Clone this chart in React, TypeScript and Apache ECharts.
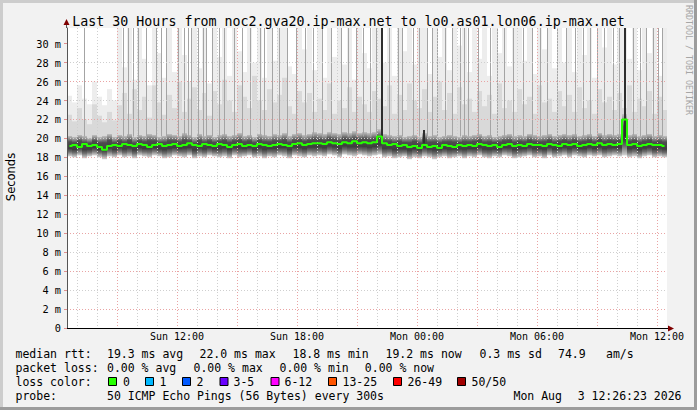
import React, { useEffect, useRef } from 'react';
import * as echarts from 'echarts';

// ---- time layout (hours of day, Sun 06:30 -> Mon 12:30) ----
const START_H = 6.5;
const END_H = 36.5;
const STEP_H = 0.25;
const Y_MAX = 31.65;

// ---- median RTT per 15-minute column (ms) ----
const median = [
  19.2, 19.3, 19.1, 19.4, 19.2, 19.3, 19.1, 18.8, 19.2, 19.3,
  19.2, 19.4, 19.3, 19.2, 19.4, 19.3, 19.1, 19.3, 19.4, 19.2,
  19.3, 19.4, 19.2, 19.3, 19.5, 19.3, 19.2, 19.4, 19.3, 19.2,
  19.4, 19.3, 19.1, 19.3, 19.4, 19.2, 19.3, 19.2, 19.4, 19.3,
  19.2, 19.3, 19.4, 19.3, 19.2, 19.4, 19.5, 19.3, 19.4, 19.5,
  19.5, 19.4, 19.6, 19.5, 19.4, 19.6, 19.5, 19.7, 19.5, 19.6,
  19.5, 19.6, 20.2, 19.5, 19.3, 19.4, 19.2, 19.3, 19.1, 19.2,
  19.0, 19.3, 19.1, 19.2, 19.0, 19.3, 19.2, 19.1, 19.3, 19.2,
  19.3, 19.2, 19.4, 19.3, 19.2, 19.3, 19.1, 19.3, 19.4, 19.2,
  19.3, 19.2, 19.4, 19.3, 19.3, 19.2, 19.4, 19.3, 19.2, 19.4,
  19.3, 19.4, 19.2, 19.3, 19.4, 19.3, 19.5, 19.3, 19.4, 19.3,
  19.4, 22.0, 19.3, 19.4, 19.2, 19.3, 19.4, 19.3, 19.3, 19.2,
];

// ---- smoke: lowest and highest of the dense ping core (ms) ----
const smokeLo = [
  18.1, 18.0, 18.2, 17.9, 18.1, 18.2, 18.0, 17.8, 18.1, 18.0,
  18.2, 18.0, 18.1, 17.9, 18.2, 18.1, 18.0, 18.2, 18.1, 17.9,
  18.0, 18.2, 18.1, 18.0, 18.2, 17.9, 18.1, 18.0, 18.2, 18.1,
  18.0, 18.1, 17.9, 18.2, 18.0, 18.1, 18.2, 18.0, 18.1, 17.9,
  18.1, 18.0, 18.2, 18.1, 17.9, 18.2, 18.1, 18.0, 18.2, 18.1,
  18.2, 18.1, 18.3, 18.2, 18.0, 18.3, 18.2, 18.1, 18.3, 18.2,
  18.1, 18.2, 18.3, 18.0, 18.1, 17.9, 18.0, 18.1, 17.8, 18.0,
  17.9, 18.1, 18.0, 17.8, 18.0, 18.1, 17.9, 18.0, 18.1, 17.9,
  18.1, 18.0, 18.2, 18.0, 17.9, 18.1, 18.0, 18.2, 18.1, 17.9,
  18.0, 18.1, 18.2, 18.0, 18.1, 17.9, 18.2, 18.0, 18.1, 18.2,
  18.0, 18.2, 18.1, 18.0, 18.2, 18.1, 18.2, 18.0, 18.1, 18.2,
  18.1, 18.2, 18.0, 18.1, 17.9, 18.1, 18.2, 18.0, 18.1, 18.0,
];
const smokeHi = [
  20.3, 20.2, 20.4, 20.3, 20.1, 20.4, 20.2, 20.3, 20.5, 20.2,
  20.4, 20.3, 20.5, 20.2, 20.4, 20.3, 20.5, 20.4, 20.2, 20.3,
  20.5, 20.4, 20.3, 20.6, 20.4, 20.2, 20.5, 20.3, 20.4, 20.2,
  20.4, 20.5, 20.3, 20.4, 20.6, 20.3, 20.4, 20.2, 20.5, 20.4,
  20.3, 20.5, 20.4, 20.6, 20.3, 20.5, 20.6, 20.4, 20.5, 20.7,
  20.6, 20.5, 20.7, 20.6, 20.5, 20.7, 20.6, 20.8, 20.6, 20.7,
  20.6, 20.7, 21.0, 20.5, 20.4, 20.3, 20.4, 20.2, 20.3, 20.4,
  20.2, 20.6, 20.3, 20.4, 20.2, 20.3, 20.4, 20.3, 20.2, 20.4,
  20.3, 20.4, 20.5, 20.3, 20.4, 20.2, 20.3, 20.4, 20.5, 20.3,
  20.4, 20.3, 20.5, 20.4, 20.3, 20.4, 20.5, 20.3, 20.4, 20.5,
  20.4, 20.5, 20.3, 20.4, 20.5, 20.3, 20.6, 20.4, 20.5, 20.4,
  20.5, 22.6, 20.4, 20.5, 20.3, 20.4, 20.5, 20.3, 20.4, 20.3,
];
// ---- smoke: upper pings (light) and highest pings (faint) (ms) ----
const lightTop = [
  22.5, 21.8, 23.2, 22.0, 21.5, 23.6, 22.4, 21.7, 22.8, 21.9,
  23.5, 24.8, 22.6, 25.2, 23.0, 24.4, 22.2, 25.6, 23.8, 22.5,
  24.6, 23.2, 26.0, 22.8, 24.2, 25.4, 23.0, 24.8, 22.4, 25.0,
  23.6, 26.2, 24.0, 22.8, 25.6, 24.4, 23.2, 26.6, 24.0, 23.0,
  25.2, 23.8, 24.6, 26.4, 23.4, 22.6, 25.0, 23.8, 24.8, 22.8,
  24.2, 23.0, 25.8, 22.6, 24.0, 23.2, 25.4, 22.8, 24.4, 23.6,
  22.8, 25.0, 24.2, 23.4, 25.6, 22.6, 24.6, 23.0, 25.8, 24.0,
  23.2, 25.2, 22.8, 24.4, 26.0, 23.0, 24.8, 22.6, 25.4, 23.6,
  24.2, 22.8, 25.0, 23.4, 24.6, 22.6, 25.8, 23.2, 24.0, 22.8,
  25.2, 23.6, 24.4, 22.6, 25.6, 23.8, 24.2, 22.8, 25.0, 23.4,
  24.6, 22.8, 25.4, 23.2, 24.0, 22.6, 25.2, 23.8, 24.4, 23.0,
  24.8, 23.2, 25.6, 22.8, 24.2, 23.4, 25.0, 22.6, 24.4, 23.0,
];
const faintTop = [
  24.5, 23.8, 25.6, 24.2, 23.6, 26.0, 24.4, 23.5, 25.2, 24.0,
  40, 27.5, 40, 26.2, 40, 28.4, 25.6, 40, 29.0, 26.4,
  40, 27.0, 40, 28.8, 26.0, 40, 27.4, 40, 25.8, 40,
  28.6, 40, 26.6, 40, 29.2, 27.0, 40, 28.0, 40, 26.4,
  40, 28.2, 40, 40, 27.6, 26.8, 40, 29.4, 40, 27.2,
  40, 26.4, 40, 28.6, 40, 27.8, 40, 26.2, 40, 29.0,
  27.4, 40, 40, 28.0, 40, 26.6, 40, 29.2, 40, 27.8,
  40, 40, 26.8, 40, 28.6, 40, 27.2, 40, 29.8, 40,
  27.0, 40, 28.4, 40, 26.6, 40, 29.0, 40, 27.6, 40,
  40, 28.2, 40, 26.8, 40, 29.4, 40, 27.4, 40, 28.0,
  40, 27.0, 40, 28.8, 40, 26.4, 40, 29.6, 40, 27.8,
  40, 40, 28.4, 40, 27.2, 40, 29.0, 40, 26.6, 40,
];

// ---- single high pings (hours), drawn from the core up ----
const spikeHours = [
  7.35, 9.3, 9.55, 9.8, 10.05, 10.45, 10.95, 11.2, 11.45, 12.05,
  12.35, 12.55, 12.7, 13.05, 13.3, 13.45, 13.75, 14.1, 14.35, 14.85,
  15.25, 15.65, 16.15, 16.35, 16.75, 17.1, 17.5, 17.95, 18.4, 18.8,
  19.25, 19.7, 20.2, 20.55, 20.95, 21.3, 21.65, 21.95, 22.6, 23.05,
  23.25, 23.8, 24.1, 24.5, 24.75, 25.0, 25.4, 25.75, 26.15, 26.35,
  26.55, 27.05, 27.65, 28.0, 28.35, 28.8, 29.3, 29.75, 30.15, 30.5,
  31.0, 31.45, 31.9, 32.3, 32.65, 33.0, 33.35, 33.8, 34.1, 34.8,
  35.15, 35.45, 35.8, 36.05, 36.25,
];
const spikeBase = 20.2;
const darkSpikeHours = [22.2, 24.3, 34.35];
const darkSpikeLows = [20.0, 19.5, 20.2];
const darkSpikeTops = [40, 20.9, 40];

// ---- axes ----
const yLabelValues = [0, 2, 4, 6, 8, 10, 12, 14, 16, 18, 20, 22, 24, 26, 28, 30];
const xLabelHours = [12, 18, 24, 30, 36];
const xLabelTexts = ['Sun 12:00', 'Sun 18:00', 'Mon 00:00', 'Mon 06:00', 'Mon 12:00'];

// ---- legend ----
const titleText = 'Last 30 Hours from noc2.gva20.ip-max.net to lo0.as01.lon06.ip-max.net';
const medianStatValues = ['19.3', '22.0', '18.8', '19.2'];
const medianStatNames = ['avg', 'max', 'min', 'now'];
const sdValue = '0.3';
const amsValue = '74.9';
const lossStatValues = ['0.00', '0.00', '0.00', '0.00'];
const lossStatNames = ['avg', 'max', 'min', 'now'];
const lossLabels = ['0', '1', '2', '3-5', '6-12', '13-25', '26-49', '50/50'];
const lossColors = ['#26ff00', '#00b8ff', '#0059ff', '#6a00ff', '#ff00ff', '#ff5500', '#ff0000', '#a10000'];
const probeText = '50 ICMP Echo Pings (56 Bytes) every 300s';
const dateDay = 'Mon Aug';
const dateRest = '3 12:26:23 2026';

// layout constants
const MONO = '"DejaVu Sans Mono", monospace';
const LEG_FONT = `11.5px ${MONO}`;
const medianX = [107, 199.5, 292.5, 385.5];
const lossX = [107, 193.5, 279.5, 364.8];
const lossBoxX = [108, 145, 182, 219.5, 270.5, 328, 393, 457];
const lossLabelX = [123, 159.5, 196.5, 233.5, 284.5, 342.5, 407.5, 471.5];

function legendText(text: string, x: number, y: number, extra: any = {}) {
  return {
    type: 'text',
    x,
    y,
    silent: true,
    style: { text, font: LEG_FONT, fill: '#000', verticalAlign: 'middle', ...extra },
  };
}

function buildGraphic() {
  const g: any[] = [];
  // frame shading
  g.push({ type: 'rect', shape: { x: 0, y: 0, width: 697, height: 3 }, style: { fill: '#cdcdcd' }, silent: true });
  g.push({ type: 'rect', shape: { x: 0, y: 0, width: 3, height: 410 }, style: { fill: '#cdcdcd' }, silent: true });
  g.push({ type: 'rect', shape: { x: 694, y: 0, width: 3, height: 410 }, style: { fill: '#9c9c9c' }, silent: true });
  g.push({ type: 'rect', shape: { x: 0, y: 407, width: 697, height: 3 }, style: { fill: '#9c9c9c' }, silent: true });
  // axis arrows
  g.push({ type: 'line', shape: { x1: 66.5, y1: 28, x2: 66.5, y2: 23 }, style: { stroke: '#555', lineWidth: 1 }, silent: true });
  g.push({ type: 'polygon', shape: { points: [[63.5, 25], [66.5, 19], [69.5, 25]] }, style: { fill: '#7f0000' }, silent: true });
  g.push({ type: 'line', shape: { x1: 667, y1: 328.5, x2: 670, y2: 328.5 }, style: { stroke: '#000', lineWidth: 1 }, silent: true });
  g.push({ type: 'polygon', shape: { points: [[668, 325.5], [674, 328.5], [668, 331.5]] }, style: { fill: '#7f0000' }, silent: true });
  // vertical labels
  g.push({
    type: 'text', x: 10.5, y: 177, rotation: Math.PI / 2, silent: true,
    style: { text: 'Seconds', font: '11.5px "DejaVu Sans", sans-serif', fill: '#000', align: 'center', verticalAlign: 'middle' },
  });
  g.push({
    type: 'text', x: 689, y: 60, rotation: -Math.PI / 2, silent: true,
    style: { text: 'RRDTOOL / TOBI OETIKER', font: `8.3px ${MONO}`, fill: '#a6a6a6', align: 'center', verticalAlign: 'middle' },
  });
  // row 1
  const r1 = 354;
  g.push(legendText('median rtt:', 15.5, r1));
  medianStatValues.forEach((v, i) => g.push(legendText(`${v} ms ${medianStatNames[i]}`, medianX[i], r1)));
  g.push(legendText(`${sdValue} ms sd`, 479.5, r1));
  g.push(legendText(amsValue, 558, r1));
  g.push(legendText('am/s', 606, r1));
  // row 2
  const r2 = 368;
  g.push(legendText('packet loss:', 15.5, r2));
  lossStatValues.forEach((v, i) => g.push(legendText(`${v} % ${lossStatNames[i]}`, lossX[i], r2)));
  // row 3
  const r3 = 382;
  g.push(legendText('loss color:', 15.5, r3));
  lossLabels.forEach((lab, i) => {
    g.push({
      type: 'rect', silent: true,
      shape: { x: lossBoxX[i] + 0.5, y: r3 - 4.5, width: 8, height: 8 },
      style: { fill: lossColors[i], stroke: '#000', lineWidth: 1 },
    });
    g.push(legendText(lab, lossLabelX[i], r3));
  });
  // row 4
  const r4 = 396;
  g.push(legendText('probe:', 15.5, r4));
  g.push(legendText(probeText, 107, r4));
  g.push(legendText(dateDay, 513.5, r4));
  g.push(legendText(dateRest, 681.5, r4, { align: 'right' }));
  return g;
}

function coreGradient() {
  return new echarts.graphic.LinearGradient(0, 0, 0, 1, [
    { offset: 0, color: '#c6c6c6' },
    { offset: 0.16, color: '#8a8a8a' },
    { offset: 0.3, color: '#4e4e4e' },
    { offset: 0.62, color: '#3e3e3e' },
    { offset: 0.78, color: '#6e6e6e' },
    { offset: 0.9, color: '#a8a8a8' },
    { offset: 1, color: '#d6d6d6' },
  ]);
}

function buildOption() {
  const smokeData = median.map((_, i) => [START_H + i * STEP_H, smokeLo[i], smokeHi[i], lightTop[i], faintTop[i]]);
  const medianData = median.map((v, i) => [START_H + (i + 0.5) * STEP_H, v]);
  const spikeData = spikeHours.map((h) => [h, spikeBase, 40]);
  const darkData = darkSpikeHours.map((h, i) => [h, darkSpikeLows[i], darkSpikeTops[i]]);

  const clampY = (api: any, h: number, v: number) => api.coord([h, Math.min(v, Y_MAX)])[1];

  return {
    animation: false,
    backgroundColor: '#f2f2f2',
    textStyle: { fontFamily: MONO },
    title: {
      text: titleText,
      left: 'center',
      top: 10,
      textStyle: { fontFamily: MONO, fontSize: 13.3, fontWeight: 'normal', color: '#000' },
    },
    grid: {
      left: 67, right: 30, top: 28, bottom: 82,
      show: true, backgroundColor: '#ffffff', borderWidth: 0, z: -5,
      containLabel: false,
    },
    xAxis: {
      type: 'value', min: START_H, max: END_H, interval: 0.5,
      axisLine: { show: true, onZero: false, lineStyle: { color: '#000', width: 1 } },
      axisTick: { show: false },
      axisLabel: {
        show: true, customValues: xLabelHours, margin: 3,
        formatter: (v: number) => xLabelTexts[xLabelHours.indexOf(v)] ?? '',
        color: '#000', fontFamily: MONO, fontSize: 10,
      },
      splitLine: {
        show: true,
        lineStyle: {
          color: ['rgba(0,0,0,0)', '#cfcfcf', 'rgba(0,0,0,0)', '#cfcfcf', 'rgba(0,0,0,0)', '#e9a4a4'],
          type: [1, 2], width: 1,
        },
      },
    },
    yAxis: {
      type: 'value', min: 0, max: Y_MAX, interval: 1,
      axisLine: { show: true, lineStyle: { color: '#555', width: 1 } },
      axisTick: { show: true, customValues: yLabelValues, length: 3, lineStyle: { color: '#e09090' } },
      axisLabel: {
        show: true, customValues: yLabelValues, margin: 6,
        formatter: (v: number) => (v === 0 ? '0' : `${v} m`),
        color: '#000', fontFamily: MONO, fontSize: 10.3,
      },
      splitLine: {
        show: true, showMinLine: false, showMaxLine: false,
        lineStyle: { color: ['#e9a4a4', '#cfcfcf'], type: [1, 2], width: 1 },
      },
    },
    graphic: buildGraphic(),
    series: [
      {
        type: 'custom', name: 'smoke', z: -2, clip: true, silent: true,
        data: smokeData,
        renderItem: (params: any, api: any) => {
          const h = api.value(0);
          const x0 = api.coord([h, 0])[0];
          const x1 = api.coord([h + STEP_H, 0])[0];
          const w = x1 - x0;
          const lo = clampY(api, h, api.value(1));
          const hi = clampY(api, h, api.value(2));
          const tb = clampY(api, h, api.value(3));
          const ta = clampY(api, h, api.value(4));
          return {
            type: 'group',
            children: [
              { type: 'rect', shape: { x: x0, y: ta, width: w, height: hi - ta }, style: { fill: '#ededed' } },
              { type: 'rect', shape: { x: x0, y: tb, width: w, height: hi - tb }, style: { fill: '#d9d9d9' } },
              { type: 'rect', shape: { x: x0, y: hi, width: w, height: lo - hi }, style: { fill: coreGradient() } },
            ],
          };
        },
      },
      {
        type: 'custom', name: 'spikes', z: -1, clip: true, silent: true,
        data: spikeData,
        renderItem: (params: any, api: any) => {
          const h = api.value(0);
          const x = Math.round(api.coord([h, 0])[0]);
          const lo = clampY(api, h, api.value(1));
          const hi = clampY(api, h, api.value(2));
          return { type: 'rect', shape: { x, y: hi, width: 1, height: lo - hi }, style: { fill: '#a4a4a4' } };
        },
      },
      {
        type: 'custom', name: 'darkSpikes', z: 2, clip: true, silent: true,
        data: darkData,
        renderItem: (params: any, api: any) => {
          const h = api.value(0);
          const x = Math.round(api.coord([h, 0])[0]);
          const lo = clampY(api, h, api.value(1));
          const hi = clampY(api, h, api.value(2));
          return { type: 'rect', shape: { x, y: hi, width: 2, height: lo - hi }, style: { fill: '#2e2e2e' } };
        },
      },
      {
        type: 'line', name: 'median', z: 3, silent: true,
        data: medianData, step: 'middle', showSymbol: false, symbol: 'none',
        lineStyle: { color: '#26ff00', width: 2 },
      },
    ],
  };
}

export default function App() {
  const ref = useRef<HTMLDivElement>(null);
  useEffect(() => {
    document.body.style.margin = '0';
    if (!ref.current) return;
    const chart = echarts.init(ref.current, null, { renderer: 'svg' });
    chart.setOption(buildOption() as any);
    return () => chart.dispose();
  }, []);
  return <div ref={ref} style={{ position: 'absolute', left: 0, top: 0, width: 697, height: 410 }} />;
}
